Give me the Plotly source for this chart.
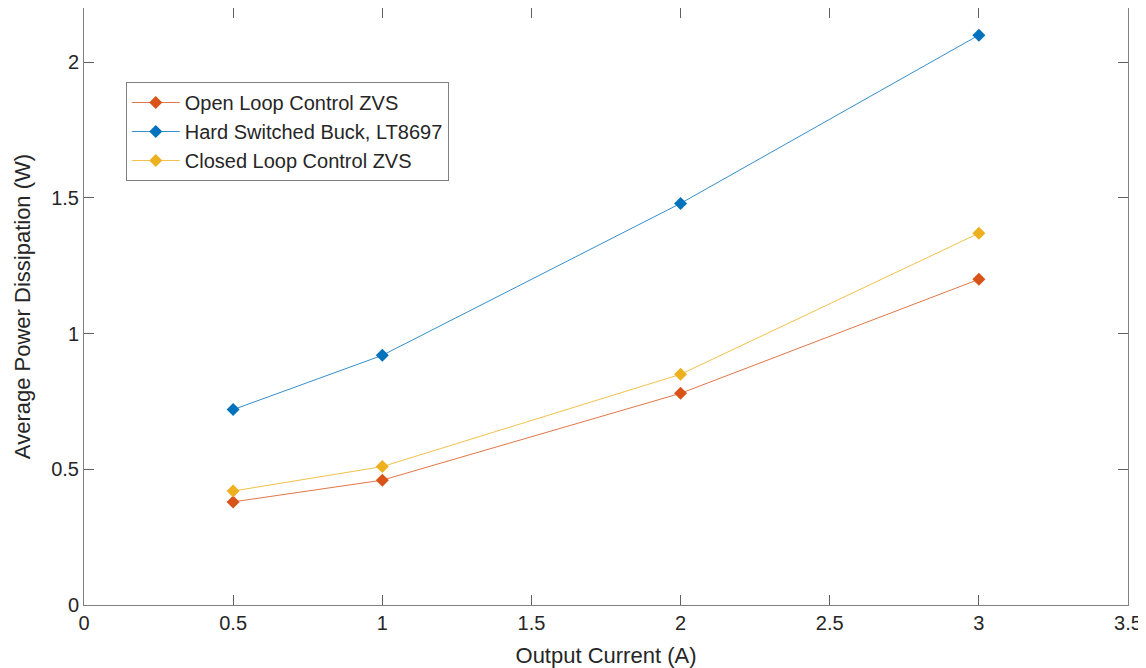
import plotly.graph_objects as go

current = [0.5, 1, 2, 3]
open_loop = [0.38, 0.46, 0.78, 1.20]
hard_switched = [0.72, 0.92, 1.48, 2.10]
closed_loop = [0.42, 0.51, 0.85, 1.37]

names = ["Open Loop Control ZVS", "Hard Switched Buck, LT8697", "Closed Loop Control ZVS"]
colors = ["#D95319", "#0072BD", "#EDB120"]
series = [open_loop, hard_switched, closed_loop]

x_ticks = [0, 0.5, 1, 1.5, 2, 2.5, 3, 3.5]
x_labels = ["0", "0.5", "1", "1.5", "2", "2.5", "3", "3.5"]
y_ticks = [0, 0.5, 1, 1.5, 2]
y_labels = ["0", "0.5", "1", "1.5", "2"]

fig = go.Figure()
for name, col, vals in zip(names, colors, series):
    fig.add_trace(go.Scatter(
        x=current, y=vals, mode="lines+markers", name=name,
        line=dict(color=col, width=0.8),
        marker=dict(symbol="diamond", size=10, color=col),
    ))

font = "Liberation Sans, Arial, Helvetica, sans-serif"
axis_common = dict(
    showgrid=False, zeroline=False, showline=True, mirror="ticks",
    linecolor="#808080", linewidth=1, ticks="inside", ticklen=10,
    tickcolor="#606060", tickwidth=1,
    tickfont=dict(family=font, size=20, color="#262626"),
)

# page body has an 8px margin, so the figure is 1138x660 placed at (8,8)
fig.update_layout(
    width=1138, height=660,
    margin=dict(l=76, r=18, t=0, b=63),
    paper_bgcolor="white", plot_bgcolor="white",
    font=dict(family=font, color="#262626"),
    xaxis=dict(range=[0, 3.5], tickvals=x_ticks, ticktext=x_labels,
               title=dict(text="Output Current (A)", font=dict(family=font, size=22, color="#262626"), standoff=15),
               **axis_common),
    yaxis=dict(range=[0, 2.2], tickvals=y_ticks, ticktext=y_labels,
               title=dict(text="Average Power Dissipation (W)", font=dict(family=font, size=22, color="#262626"), standoff=14),
               **axis_common),
    legend=dict(x=0.040, y=0.876, xanchor="left", yanchor="top",
                bgcolor="white", bordercolor="#808080", borderwidth=1,
                font=dict(family=font, size=20, color="#262626"),
                tracegroupgap=0, itemwidth=48),
    showlegend=True,
)

fig.write_html(
    "out.html",
    config={"displayModeBar": False, "responsive": False},
    post_script="document.body.style.overflow='hidden';",
)
